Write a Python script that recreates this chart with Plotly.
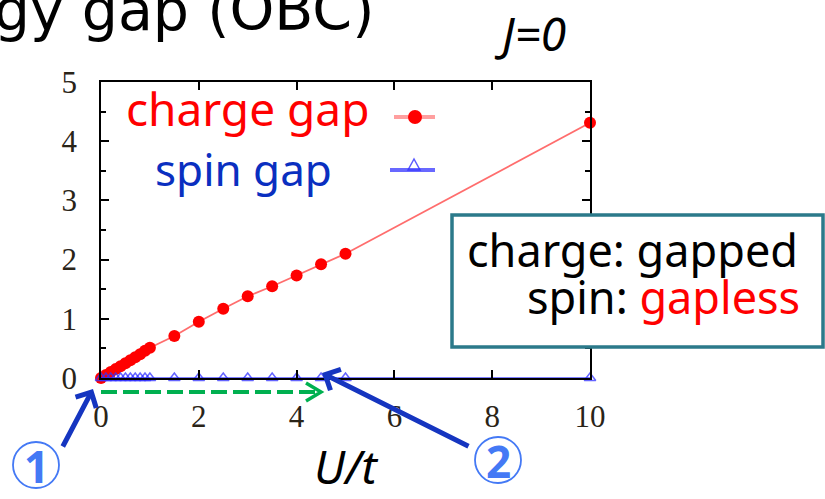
import plotly.graph_objects as go

# Hubbard-chain energy gaps versus U/t (open boundary conditions, J=0)
u_values = [0.0, 0.1, 0.2, 0.3, 0.4, 0.5, 0.6, 0.7, 0.8, 0.9, 1.0,
            1.5, 2.0, 2.5, 3.0, 3.5, 4.0, 4.5, 5.0, 10.0]
charge_gap = [0.0, 0.05, 0.10, 0.15, 0.20, 0.25, 0.30, 0.35, 0.40, 0.46, 0.51,
              0.71, 0.95, 1.17, 1.38, 1.55, 1.73, 1.92, 2.10, 4.31]
spin_gap = [0.0] * len(u_values)

x_ticks = [0, 2, 4, 6, 8, 10]
y_ticks = [0, 1, 2, 3, 4, 5]

W, H = 825, 499
L, R, T, B = 101, 590, 82, 378

def fx(px):
    return (px - L) / (R - L)

def fy(py):
    return (B - py) / (B - T)

TEXT_FONT = "Noto Sans"
RED = "#ff0000"
BLUE_TXT = "#0a2fc0"
ARROW_BLUE = "#1535c0"
DIGIT_BLUE = "#4479f5"
GREEN = "#00b050"
BOX = "#2b7a8a"

fig = go.Figure()

fig.add_trace(go.Scatter(
    x=u_values, y=charge_gap, mode="lines+markers",
    line=dict(color="rgba(255,60,60,0.75)", width=1.8),
    marker=dict(symbol="circle", size=12, color=RED),
    cliponaxis=False, showlegend=False))

fig.add_trace(go.Scatter(
    x=u_values, y=spin_gap, mode="lines+markers",
    line=dict(color="rgba(40,40,255,0.6)", width=1.8),
    marker=dict(symbol="triangle-up-open", size=10,
                color="rgba(50,50,255,0.75)", line=dict(width=1.5)),
    cliponaxis=False, showlegend=False))

axis_common = dict(
    showline=True, linecolor="black", linewidth=1.5, mirror="ticks",
    ticks="inside", ticklen=8, tickwidth=1.5, tickcolor="black",
    showgrid=False, zeroline=False,
    tickfont=dict(family="Liberation Serif", size=31, color="#2a2418"),
)

fig.update_xaxes(range=[0, 10], tickvals=x_ticks, ticklabelstandoff=10, **axis_common)
fig.update_yaxes(range=[0, 5], tickvals=y_ticks, ticklabelstandoff=16,
                 minor=dict(dtick=0.5, ticks="inside", ticklen=5, tickwidth=1.5,
                            tickcolor="black"),
                 **axis_common)

shapes = []
annotations = []

def text(px, py, s, size, color="black", anchor="center", italic=False,
         family=TEXT_FONT, yanchor="middle"):
    annotations.append(dict(
        xref="paper", yref="paper", x=fx(px), y=fy(py), text=s,
        showarrow=False, xanchor=anchor, yanchor=yanchor,
        font=dict(family=family, size=size, color=color,
                  style="italic" if italic else "normal")))

# Heading and labels
text(376, 10, "energy gap (OBC)", 57, anchor="right", family="DejaVu Sans")
text(530, 33, "J=0", 46, italic=True)
text(346, 499, "U/t", 46, italic=True, yanchor="bottom")

# Legend entries: text on the left, sample on the right
text(247, 108, "charge gap", 46, color=RED)
text(243, 169, "spin gap", 44, color=BLUE_TXT)
shapes.append(dict(type="line", xref="paper", yref="paper",
                   x0=fx(394), x1=fx(435), y0=fy(117), y1=fy(117),
                   line=dict(color="rgba(255,80,80,0.55)", width=4)))
shapes.append(dict(type="circle", xref="paper", yref="paper",
                   x0=fx(408), x1=fx(422), y0=fy(110), y1=fy(124),
                   fillcolor=RED, line=dict(color=RED, width=0)))
shapes.append(dict(type="line", xref="paper", yref="paper",
                   x0=fx(390), x1=fx(435), y0=fy(170), y1=fy(170),
                   line=dict(color="rgba(40,40,255,0.7)", width=4)))
shapes.append(dict(type="path", xref="paper", yref="paper",
                   path=f"M {fx(408)},{fy(170)} L {fx(414)},{fy(159)} L {fx(420)},{fy(170)} Z",
                   line=dict(color="rgba(50,50,255,0.8)", width=1.5)))

# Summary box
shapes.append(dict(type="rect", xref="paper", yref="paper", layer="above",
                   x0=fx(452), x1=fx(823), y0=fy(347), y1=fy(215),
                   fillcolor="white", line=dict(color=BOX, width=3.5)))
text(800, 249, "charge: gapped", 45, anchor="right")
text(802, 296, "spin: <span style='color:#ff0000'>gapless</span>", 45, anchor="right")

# Green dashed arrow along the gapless range
shapes.append(dict(type="line", xref="paper", yref="paper",
                   x0=fx(101), x1=fx(319), y0=fy(392), y1=fy(392),
                   line=dict(color=GREEN, width=4, dash="16px,6px")))
shapes.append(dict(type="path", xref="paper", yref="paper",
                   path=f"M {fx(306)},{fy(383)} L {fx(321)},{fy(392)} L {fx(306)},{fy(401)}",
                   line=dict(color=GREEN, width=3.5)))

# Blue pointer arrows
for tip, tail in [((93, 389), (62, 448)), ((322, 373), (470, 447))]:
    annotations.append(dict(
        xref="paper", yref="paper", x=fx(tip[0]), y=fy(tip[1]),
        axref="pixel", ayref="pixel", ax=tail[0] - tip[0], ay=tail[1] - tip[1],
        text="", showarrow=True, arrowhead=4, arrowsize=0.9, arrowwidth=5,
        arrowcolor=ARROW_BLUE, standoff=0, startstandoff=0))

# Circled markers 1 and 2
for (cx, cy), label in [((36, 465), "1"), ((498, 460), "2")]:
    shapes.append(dict(type="circle", xref="paper", yref="paper",
                       x0=fx(cx - 23), x1=fx(cx + 23), y0=fy(cy + 23), y1=fy(cy - 23),
                       line=dict(color=DIGIT_BLUE, width=1.8)))
    annotations.append(dict(
        xref="paper", yref="paper", x=fx(cx), y=fy(cy + 1), text=f"<b>{label}</b>",
        showarrow=False, xanchor="center", yanchor="middle",
        font=dict(family=TEXT_FONT, size=44, color=DIGIT_BLUE)))

fig.update_layout(
    width=W, height=H,
    margin=dict(l=L, r=W - R, t=T, b=H - B),
    paper_bgcolor="white", plot_bgcolor="white",
    shapes=shapes, annotations=annotations,
)

fig.write_html("out.html")
